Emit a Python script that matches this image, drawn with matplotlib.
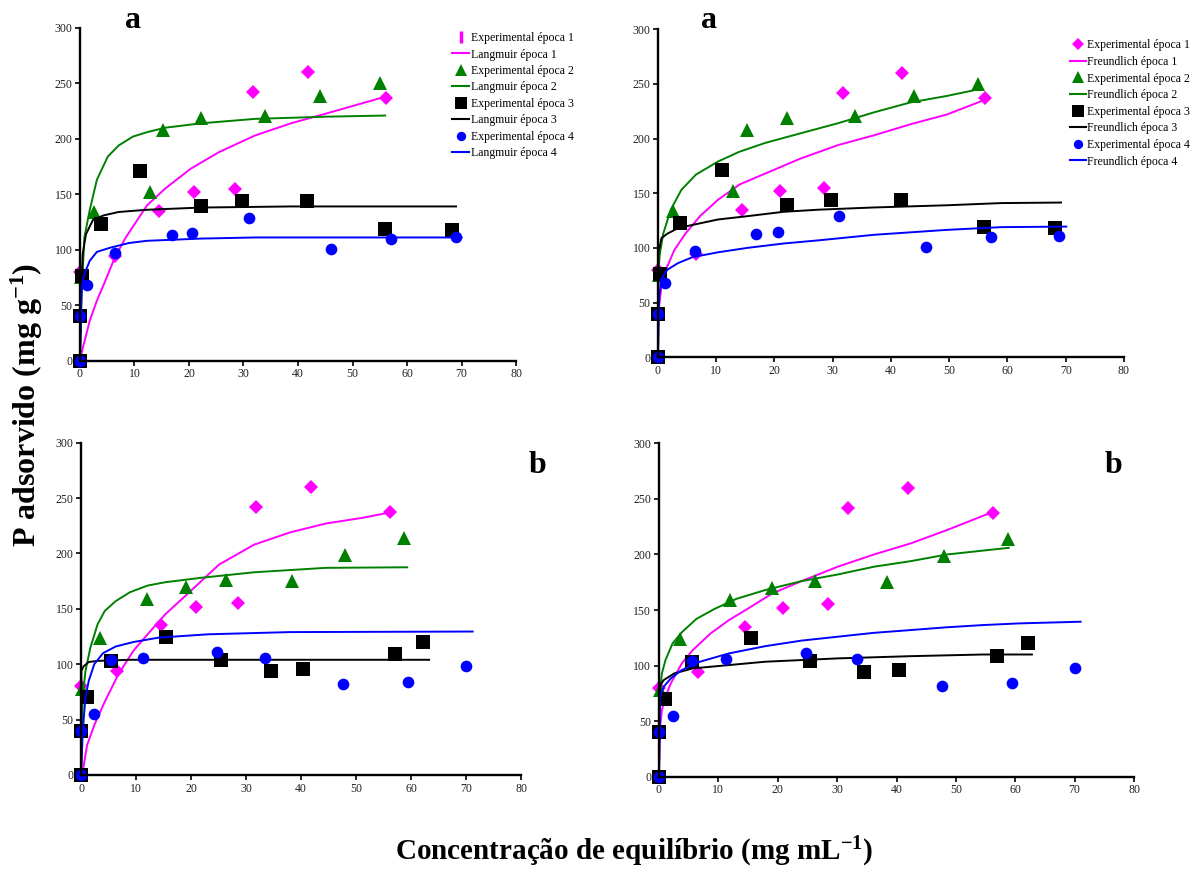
import matplotlib
matplotlib.use("Agg")
import matplotlib.pyplot as plt
from matplotlib.lines import Line2D

plt.rcParams['font.family'] = ['Liberation Serif', 'DejaVu Serif']
plt.rcParams['mathtext.fontset'] = 'custom'
plt.rcParams['mathtext.rm'] = 'Liberation Serif:bold'
plt.rcParams['mathtext.bf'] = 'Liberation Serif:bold'
plt.rcParams['mathtext.default'] = 'bf'

# experimental points, epoch 1 (same in all panels)
c1 = [0, 6.5, 14.5, 20.9, 28.5, 31.8, 41.9, 56.2]
q1 = [80, 94, 135, 152, 155, 242, 260, 237]

# set a (top row)
c2a = [0.2, 2.5, 12.9, 15.2, 22.2, 33.9, 44.0, 55.0]
q2a = [75, 134, 152, 208, 219, 221, 239, 250]
c3a = [0, 0, 0.4, 3.8, 11.0, 22.2, 29.7, 41.7, 56.0, 68.2]
q3a = [0, 40, 76, 123, 171, 139, 144, 144, 119, 118]
c4a = [0, 0, 1.2, 6.4, 16.9, 20.6, 31.0, 46.0, 57.1, 68.9]
q4a = [0, 40, 68, 97, 113, 115, 129, 101, 110, 111]

# set b (bottom row)
c2b = [0.2, 3.5, 11.9, 19.0, 26.3, 38.4, 48.0, 58.7]
q2b = [78, 124, 159, 170, 176, 175, 199, 214]
c3b = [0, 0, 1.0, 5.5, 15.5, 25.5, 34.5, 40.4, 57.0, 62.1]
q3b = [0, 40, 70, 103, 125, 104, 94, 96, 109, 120]
c4b = [0, 0, 2.3, 5.5, 11.3, 24.8, 33.4, 47.6, 59.5, 70.0]
q4b = [0, 40, 55, 104, 106, 111, 106, 82, 84, 98]

# fitted curves
lc1a = [0, 0.5, 1.8, 3.1, 4.4, 6.4, 8.4, 12.3, 15.6, 20.3, 25.5, 32.1, 38.7, 45.3, 56.0]
lq1a = [0, 11, 36, 54, 69, 93, 111, 140, 155, 173, 188, 203, 214, 223, 238]
lc2a = [0, 0.3, 0.8, 1.8, 3.1, 5.1, 7.1, 9.7, 12.3, 15.6, 22.2, 32.1, 45.3, 56.0]
lq2a = [0, 60, 111, 136, 163, 184, 194, 202, 206, 210, 214, 218, 220, 221]
lc3a = [0, 0.2, 0.5, 1.1, 2.4, 4.4, 7.1, 12.3, 22.2, 38.7, 69.0]
lq3a = [0, 60, 96, 114, 127, 131, 134, 136, 138, 139, 139]
lc4a = [0, 0.13, 0.33, 0.8, 1.8, 3.1, 5.7, 9.0, 12.3, 22.2, 32.1, 70.0]
lq4a = [0, 36, 66, 78, 90, 98, 102, 106, 108, 110, 111, 111]

fc1a = [0, 0.05, 0.6, 1.6, 2.8, 4.7, 7.2, 10.3, 14.0, 18.4, 24.6, 30.9, 37.1, 43.3, 49.6, 56.4]
fq1a = [0, 40, 65, 83, 98, 113, 129, 144, 158, 168, 182, 194, 203, 213, 222, 236]
fc2a = [0, 0.05, 0.3, 0.9, 2.2, 4.0, 6.5, 10.3, 14.0, 18.4, 24.6, 30.9, 37.1, 43.3, 49.6, 55.0]
fq2a = [0, 75, 94, 113, 135, 153, 167, 179, 188, 196, 205, 214, 224, 233, 239, 245]
fc3a = [0, 0.05, 0.6, 1.6, 3.4, 5.9, 10.3, 15.3, 21.5, 27.7, 37.1, 49.6, 58.9, 69.2]
fq3a = [0, 95, 109, 113, 118, 121, 126, 129, 133, 135, 137, 139, 141, 141.5]
fc4a = [0, 0.2, 0.6, 1.6, 3.4, 5.9, 10.3, 15.3, 21.5, 27.7, 37.1, 49.6, 58.9, 70.1]
fq4a = [0, 55, 72, 80, 86, 91.5, 96, 100, 104, 107, 112, 116.5, 119, 119.5]

lc1b = [0, 0.3, 1.1, 2.4, 4.3, 6.8, 9.5, 12.1, 15.3, 19.9, 25.1, 31.5, 38.0, 44.5, 51.0, 56.2]
lq1b = [0, 3, 27, 45, 66, 91, 112, 127, 145, 166, 190, 208, 219, 227, 232, 237]
lc2b = [0, 0.3, 0.8, 1.7, 3.0, 4.3, 6.3, 8.9, 12.1, 15.3, 21.8, 31.5, 44.5, 59.3]
lq2b = [0, 70, 94, 115, 136, 148, 157, 165, 171, 174, 178, 183, 187, 187.5]
lc3b = [0, 0.05, 0.45, 1.4, 3.0, 8.9, 63.3]
lq3b = [0, 94, 98, 102, 103, 104, 104]
lc4b = [0, 0.3, 0.8, 1.4, 2.4, 4.0, 6.3, 9.5, 14.1, 23.1, 38.0, 71.2]
lq4b = [0, 39, 70, 85, 100, 110, 116, 120, 124, 127, 129, 129.5]

fc1b = [0, 0.2, 0.5, 1.1, 2.0, 3.85, 5.7, 8.7, 11.8, 14.9, 19.1, 24.0, 30.1, 36.2, 42.4, 48.5, 56.1]
fq1b = [0, 45, 60, 72, 84, 102, 114, 129, 141, 151, 165, 176, 189, 200, 210, 222, 238]
fc2b = [0, 0.05, 0.2, 0.5, 1.1, 2.3, 3.85, 6.3, 9.35, 13.0, 17.9, 24.0, 30.1, 36.2, 42.4, 48.5, 58.9]
fq2b = [0, 60, 78, 93, 105, 120, 130, 142, 151, 160, 168, 176, 182, 189, 194, 200, 206]
fc3b = [0, 0.05, 0.2, 0.8, 2.6, 5.7, 11.8, 17.9, 24.0, 30.1, 42.4, 54.6, 62.8]
fq3b = [0, 70, 82, 87, 93, 97.5, 100.5, 103.5, 105, 106.5, 108.5, 110, 110]
fc4b = [0, 0.2, 0.8, 2.0, 3.85, 6.9, 11.8, 17.9, 24.0, 30.1, 36.2, 42.4, 48.5, 54.6, 60.7, 71.0]
fq4b = [0, 72, 81, 88.5, 96, 103.5, 111, 117.5, 122.5, 126, 129.5, 132, 134.5, 136.5, 138, 139.5]

colors = ['#ff00ff', '#008000', '#000000', '#0000ff']
markers = ['D', '^', 's', 'o']
msizes = [7.4, 10, 10, 8.4]

fig = plt.figure(figsize=(11.92, 8.75), dpi=100)

# axes boxes in figure fraction
boxes = {
    'tl': [0.0671, 0.5880, 0.3658, 0.3800],
    'tr': [0.5520, 0.5917, 0.3909, 0.3749],
    'bl': [0.0680, 0.1143, 0.3691, 0.3798],
    'br': [0.5528, 0.1123, 0.3986, 0.3810],
}

panels = [
    ('tl', [(c1, q1), (c2a, q2a), (c3a, q3a), (c4a, q4a)],
     [(lc1a, lq1a), (lc2a, lq2a), (lc3a, lq3a), (lc4a, lq4a)]),
    ('tr', [(c1, q1), (c2a, q2a), (c3a, q3a), (c4a, q4a)],
     [(fc1a, fq1a), (fc2a, fq2a), (fc3a, fq3a), (fc4a, fq4a)]),
    ('bl', [(c1, q1), (c2b, q2b), (c3b, q3b), (c4b, q4b)],
     [(lc1b, lq1b), (lc2b, lq2b), (lc3b, lq3b), (lc4b, lq4b)]),
    ('br', [(c1, q1), (c2b, q2b), (c3b, q3b), (c4b, q4b)],
     [(fc1b, fq1b), (fc2b, fq2b), (fc3b, fq3b), (fc4b, fq4b)]),
]

for key, pts, curves in panels:
    ax = fig.add_axes(boxes[key])
    for i in range(4):
        ax.plot(pts[i][0], pts[i][1], linestyle='none', marker=markers[i],
                ms=msizes[i], mfc=colors[i], mec=colors[i], mew=0, clip_on=False)
        ax.plot(curves[i][0], curves[i][1], color=colors[i], lw=1.4, clip_on=False)
    ax.set_xlim(0, 80)
    ax.set_ylim(0, 300)
    ax.set_xticks(range(0, 81, 10))
    ax.set_yticks(range(0, 301, 50))
    for s in ['top', 'right']:
        ax.spines[s].set_visible(False)
    for s in ['left', 'bottom']:
        ax.spines[s].set_linewidth(1.7)
    ax.tick_params(direction='out', length=3.5, width=1.2, labelsize=8.5,
                   pad=2, labelcolor='#222222')

# legends
def legend_handles(kind, first_marker):
    hs, labels = [], []
    for i in range(4):
        m = first_marker if i == 0 else markers[i]
        ms = 9 if (i == 0 and m == '|') else msizes[i] * 0.8
        hs.append(Line2D([], [], linestyle='none', marker=m, ms=ms, color=colors[i],
                         mew=2.5 if m == '|' else 0))
        labels.append('Experimental época %d' % (i + 1))
        hs.append(Line2D([], [], color=colors[i], lw=1.5))
        labels.append('%s época %d' % (kind, i + 1))
    return hs, labels

h, l = legend_handles('Langmuir', '|')
fig.legend(h, l, loc='upper left', bbox_to_anchor=(0.3795, 0.9632), frameon=False,
           fontsize=8.5, handlelength=1.4, handletextpad=0.2, labelspacing=0.375,
           borderpad=0, borderaxespad=0)
h, l = legend_handles('Freundlich', 'D')
fig.legend(h, l, loc='upper left', bbox_to_anchor=(0.898, 0.955), frameon=False,
           fontsize=8.5, handlelength=1.3, handletextpad=0.1, labelspacing=0.39,
           borderpad=0, borderaxespad=0)

# panel letters
lab = dict(fontsize=23, fontweight='bold', ha='center', va='baseline')
fig.text(0.1112, 0.968, 'a', **lab)
fig.text(0.5948, 0.968, 'a', **lab)
fig.text(0.4513, 0.4594, 'b', **lab)
fig.text(0.9342, 0.4594, 'b', **lab)

fig.text(0.0227, 0.537, 'P adsorvido (mg g$^{-1}$)', rotation=90, fontsize=23,
         fontweight='bold', ha='center', va='center')
fig.text(0.532, 0.026, 'Concentração de equilíbrio (mg mL$^{-1}$)', fontsize=21,
         fontweight='bold', ha='center', va='center')

fig.savefig('out.png', dpi=100)
